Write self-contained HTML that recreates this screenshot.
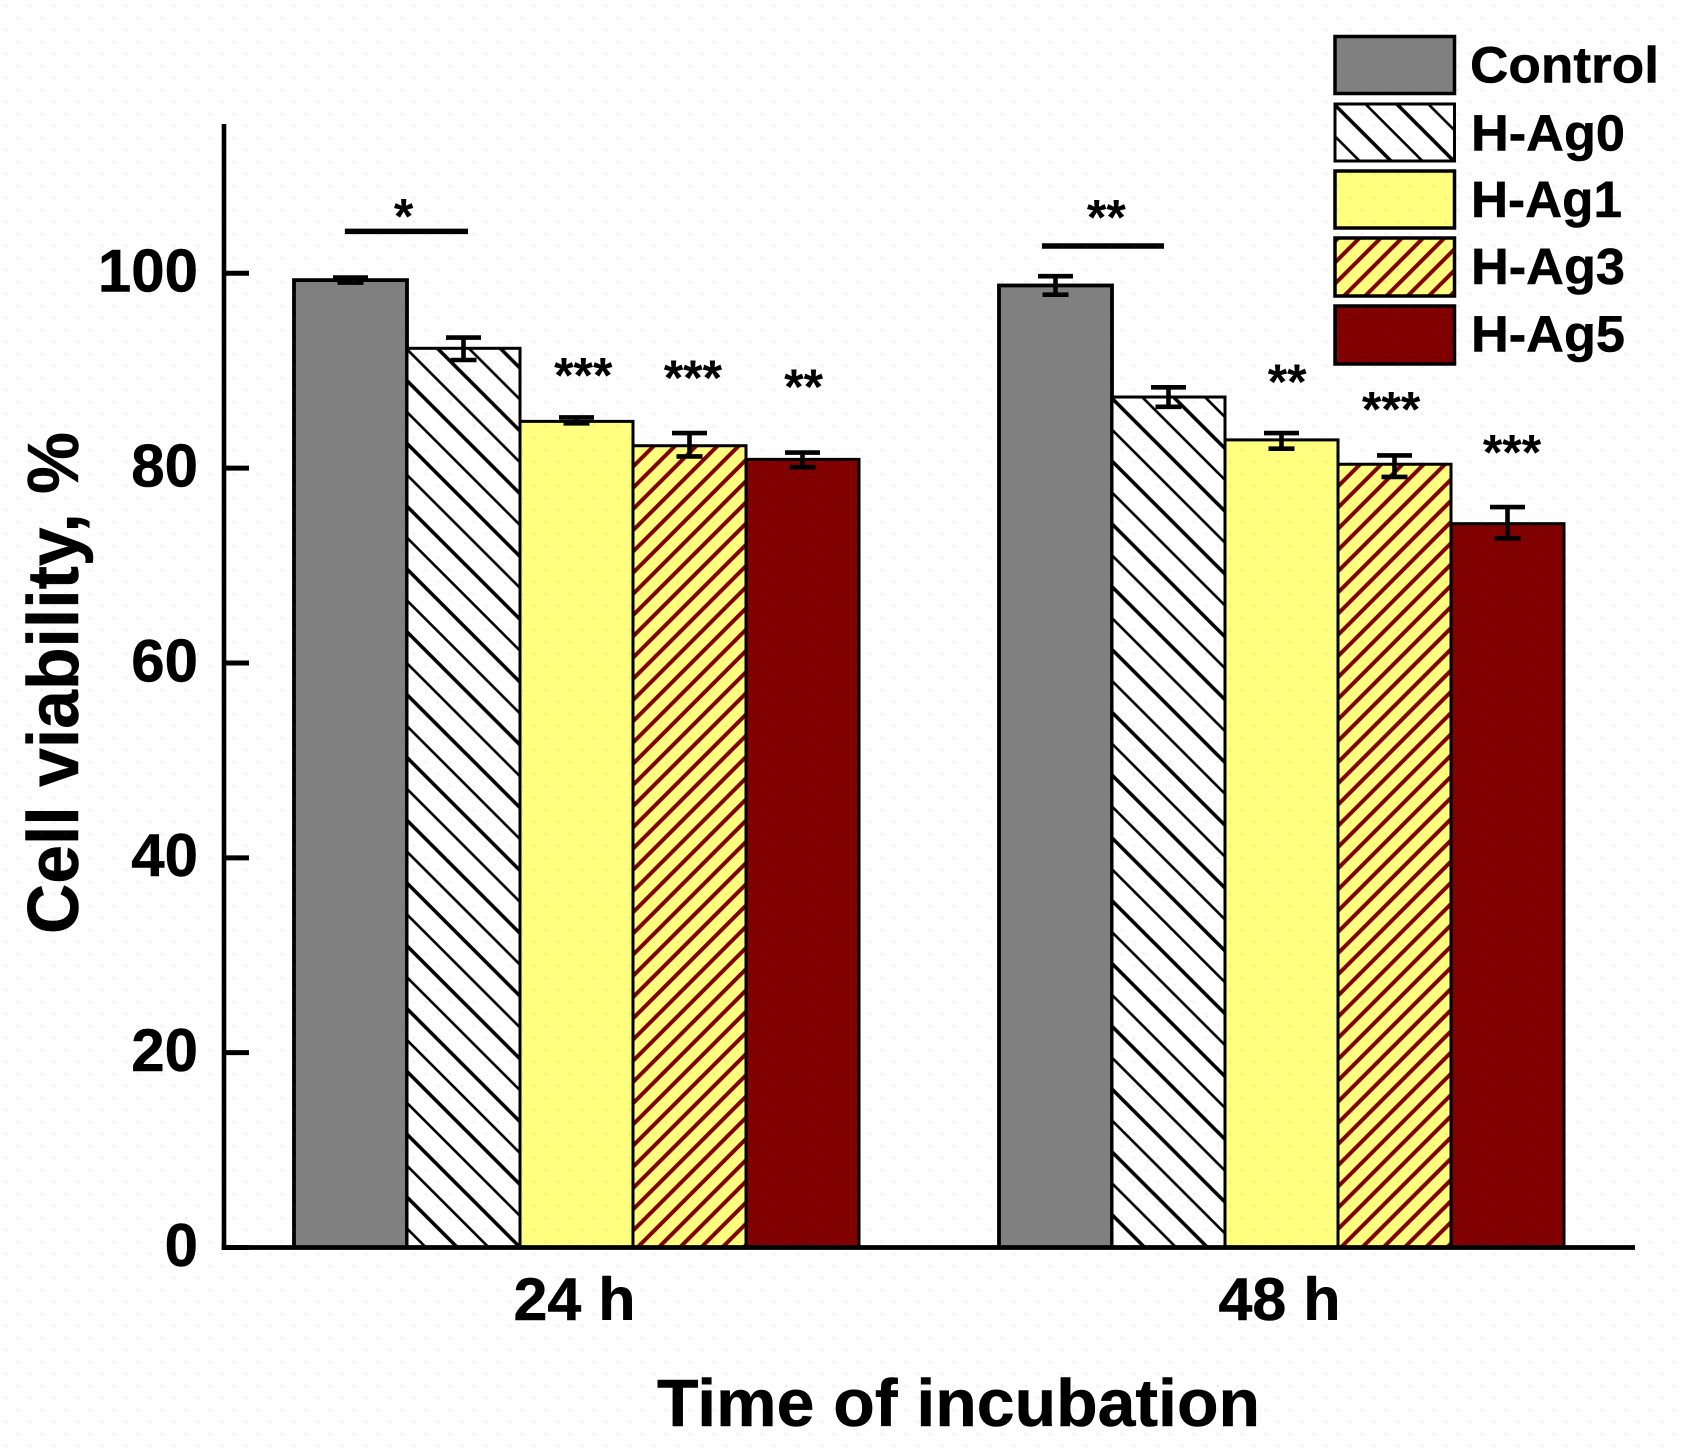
<!DOCTYPE html>
<html lang="en">
<head>
<meta charset="utf-8">
<title>Cell viability chart</title>
<style>
html,body{margin:0;padding:0;background:#fdfefd;}
svg{display:block;}
text{font-family:"Liberation Sans",Arial,sans-serif;font-weight:bold;fill:#000;stroke:#000;stroke-width:0.5px;}
</style>
</head>
<body>
<svg id="chart" xmlns="http://www.w3.org/2000/svg" width="1683" height="1453" viewBox="0 0 1683 1453">
  <defs>
    <pattern id="hatch-ag0-24" width="62.8" height="62.8" patternUnits="userSpaceOnUse" patternTransform="translate(26.3,0)">
      <rect width="62.8" height="62.8" fill="#fff"/>
      <path d="M-4 -4L66.8 66.8M58.8 -4L66.8 4M-4 58.8L4 66.8" stroke="#000" stroke-width="3.6" fill="none"/>
      <path d="M27.4 -4L66.8 35.4M-4 27.4L35.4 66.8" stroke="#000" stroke-width="2.6" fill="none"/>
    </pattern>
    <pattern id="hatch-ag0-48" width="62.8" height="62.8" patternUnits="userSpaceOnUse" patternTransform="translate(22.9,0)">
      <rect width="62.8" height="62.8" fill="#fff"/>
      <path d="M-4 -4L66.8 66.8M58.8 -4L66.8 4M-4 58.8L4 66.8" stroke="#000" stroke-width="3.6" fill="none"/>
      <path d="M27.4 -4L66.8 35.4M-4 27.4L35.4 66.8" stroke="#000" stroke-width="2.6" fill="none"/>
    </pattern>
    <pattern id="hatch-ag0-legend" width="62.8" height="62.8" patternUnits="userSpaceOnUse" patternTransform="translate(36.8,0)">
      <rect width="62.8" height="62.8" fill="#fff"/>
      <path d="M-4 -4L66.8 66.8M58.8 -4L66.8 4M-4 58.8L4 66.8" stroke="#000" stroke-width="3.6" fill="none"/>
      <path d="M27.4 -4L66.8 35.4M-4 27.4L35.4 66.8" stroke="#000" stroke-width="2.6" fill="none"/>
    </pattern>
    <pattern id="hatch-ag3-24" width="21.22" height="21.22" patternUnits="userSpaceOnUse" patternTransform="translate(17.5,0)">
      <rect width="21.22" height="21.22" fill="#ffff80"/>
      <path d="M-3 24.22L24.22 -3M-3 3L3 -3M18.22 24.22L24.22 18.22" stroke="#800000" stroke-width="4" fill="none"/>
    </pattern>
    <pattern id="hatch-ag3-48" width="21.22" height="21.22" patternUnits="userSpaceOnUse" patternTransform="translate(20.7,0)">
      <rect width="21.22" height="21.22" fill="#ffff80"/>
      <path d="M-3 24.22L24.22 -3M-3 3L3 -3M18.22 24.22L24.22 18.22" stroke="#800000" stroke-width="4" fill="none"/>
    </pattern>
    <pattern id="hatch-ag3-legend" width="21.22" height="21.22" patternUnits="userSpaceOnUse" patternTransform="translate(6,0)">
      <rect width="21.22" height="21.22" fill="#ffff80"/>
      <path d="M-3 24.22L24.22 -3M-3 3L3 -3M18.22 24.22L24.22 18.22" stroke="#800000" stroke-width="4" fill="none"/>
    </pattern>
    <pattern id="paper-dots" width="24" height="24" patternUnits="userSpaceOnUse">
      <circle cx="6" cy="6" r="1.5" fill="#5a6a66" fill-opacity="0.09"/>
      <circle cx="18" cy="18" r="1.5" fill="#5a6a66" fill-opacity="0.09"/>
    </pattern>
  </defs>

  <rect x="0" y="0" width="1683" height="1453" fill="#fdfefd"/>

  <g id="bars"></g>
  <g id="error-bars"></g>
  <g id="significance"></g>
  <g id="axes"></g>

  <text transform="translate(78,934) rotate(-90)" font-size="72" textLength="502" lengthAdjust="spacingAndGlyphs">Cell viability, %</text>
  <text x="657" y="1426" font-size="67" textLength="603" lengthAdjust="spacingAndGlyphs">Time of incubation</text>

  <g>
    <g>
      <rect x="1335" y="36.5" width="119.5" height="57" fill="#808080" stroke="#000" stroke-width="3.5"/>
      <text x="1470" y="82.5" font-size="51" textLength="189" lengthAdjust="spacingAndGlyphs">Control</text>
    </g>
    <g>
      <rect x="1335" y="104" width="119.5" height="57" fill="url(#hatch-ag0-legend)" stroke="#000" stroke-width="3"/>
      <text x="1471" y="150.5" font-size="51" textLength="154" lengthAdjust="spacingAndGlyphs">H-Ag0</text>
    </g>
    <g>
      <rect x="1335" y="171" width="119.5" height="57" fill="#ffff80" stroke="#000" stroke-width="3.5"/>
      <text x="1471" y="217" font-size="51" textLength="151" lengthAdjust="spacingAndGlyphs">H-Ag1</text>
    </g>
    <g>
      <rect x="1335" y="238" width="119.5" height="58" fill="url(#hatch-ag3-legend)" stroke="#000" stroke-width="3.5"/>
      <text x="1471" y="284" font-size="51" textLength="154" lengthAdjust="spacingAndGlyphs">H-Ag3</text>
    </g>
    <g>
      <rect x="1335" y="306" width="119.5" height="58" fill="#800000" stroke="#000" stroke-width="3.5"/>
      <text x="1471" y="351.5" font-size="51" textLength="154" lengthAdjust="spacingAndGlyphs">H-Ag5</text>
    </g>
  </g>

  <rect x="0" y="0" width="1683" height="1453" fill="url(#paper-dots)" pointer-events="none"/>
</svg>
<script>
// Data
const groupLabels = ['24 h', '48 h'];
const seriesNames = ['control', 'h-ag0', 'h-ag1', 'h-ag3', 'h-ag5'];
const yTicks = [0, 20, 40, 60, 80, 100];
const means24 = [99.3, 92.3, 84.8, 82.3, 80.9];
const means48 = [98.75, 87.3, 82.9, 80.4, 74.3];
const errUpper24 = [99.57, 93.4, 85.2, 83.6, 81.6];
const errLower24 = [99.05, 91.1, 84.6, 81.2, 80.1];
const errUpper48 = [99.7, 88.3, 83.6, 81.3, 76.0];
const errLower48 = [97.8, 86.3, 82.0, 79.1, 72.8];
const sigText24 = ['*', '***', '***', '**'];
const sigSlot24 = [0.47, 2.06, 3.03, 4.01];
const sigValue24 = [106.6, 90.26, 90.0, 89.1];
const sigText48 = ['**', '**', '***', '***'];
const sigSlot48 = [0.45, 2.05, 2.97, 4.04];
const sigValue48 = [106.5, 89.6, 86.8, 82.4];
const bracket24 = [-0.05, 1.04, 104.3];
const bracket48 = [-0.12, 0.96, 102.8];

const NS = 'http://www.w3.org/2000/svg';
const Y0 = 1247.5, PX_PER_UNIT = 9.742, AXIS_X = 224, AXIS_TOP = 124, AXIS_RIGHT = 1635;
const GROUP_START = [294, 999], SLOT = 113;

function yScale(v) { return Y0 - v * PX_PER_UNIT; }
function xScale(group, slot) { return GROUP_START[group] + slot * SLOT; }
function xCenter(group, slot) { return xScale(group, slot + 0.5); }
function make(tag, attrs) {
  const el = document.createElementNS(NS, tag);
  for (const k in attrs) el.setAttribute(k, attrs[k]);
  return el;
}

const fills = [
  ['#808080', 'url(#hatch-ag0-24)', '#ffff80', 'url(#hatch-ag3-24)', '#800000'],
  ['#808080', 'url(#hatch-ag0-48)', '#ffff80', 'url(#hatch-ag3-48)', '#800000']
];
const allMeans = [means24, means48];
const allUpper = [errUpper24, errUpper48];
const allLower = [errLower24, errLower48];
const barsG = document.getElementById('bars');
const errG = document.getElementById('error-bars');
const sigG = document.getElementById('significance');
const axesG = document.getElementById('axes');

allMeans.forEach(function (means, g) {
  means.forEach(function (v, s) {
    const rect = make('rect', {
      x: xScale(g, s), y: yScale(v), width: SLOT, height: Y0 - yScale(v),
      fill: fills[g][s], stroke: '#000', 'stroke-width': s === 0 ? 3.8 : 3
    });
    
    
    barsG.appendChild(rect);

    const cx = xCenter(g, s), yu = yScale(allUpper[g][s]), yl = yScale(allLower[g][s]);
    const err = make('path', {
      d: 'M' + cx + ' ' + yu + 'V' + yl +
         'M' + (cx - 17.5) + ' ' + yu + 'H' + (cx + 17.5) +
         'M' + (cx - 13) + ' ' + yl + 'H' + (cx + 13),
      stroke: '#000', 'stroke-width': 4.6, fill: 'none'
    });
    
    
    errG.appendChild(err);
  });
});

function drawSig(g, texts, slots, values, bracket) {
  texts.forEach(function (t, i) {
    const el = make('text', {
      x: xCenter(g, slots[i]), y: yScale(values[i]) + 24.5,
      'font-size': 50, 'text-anchor': 'middle', style: 'stroke-width:0'
    });
    
    
    el.textContent = t;
    sigG.appendChild(el);
  });
  const line = make('line', {
    x1: xCenter(g, bracket[0]), x2: xCenter(g, bracket[1]),
    y1: yScale(bracket[2]), y2: yScale(bracket[2]),
    stroke: '#000', 'stroke-width': 5.5
  });
  
  
  sigG.appendChild(line);
}
drawSig(0, sigText24, sigSlot24, sigValue24, bracket24);
drawSig(1, sigText48, sigSlot48, sigValue48, bracket48);

const yAxisLine = make('line', { x1: AXIS_X, x2: AXIS_X, y1: AXIS_TOP, y2: Y0 + 2.5, stroke: '#000', 'stroke-width': 4.6 });


axesG.appendChild(yAxisLine);

const xAxisLine = make('line', { x1: AXIS_X - 2.3, x2: AXIS_RIGHT, y1: Y0, y2: Y0, stroke: '#000', 'stroke-width': 4.8 });


axesG.appendChild(xAxisLine);

yTicks.forEach(function (t) {
  const tick = make('line', { x1: AXIS_X, x2: 249, y1: yScale(t), y2: yScale(t), stroke: '#000', 'stroke-width': 5 });
  
  
  axesG.appendChild(tick);

  const label = make('text', { x: 198, y: yScale(t) + 18.4, 'font-size': 60, 'text-anchor': 'end' });
  
  
  label.textContent = String(t);
  axesG.appendChild(label);
});

groupLabels.forEach(function (name, g) {
  const label = make('text', { x: xCenter(g, 2) - 2, y: 1320, 'font-size': 60, 'text-anchor': 'middle', textLength: 122, lengthAdjust: 'spacingAndGlyphs' });
  
  
  label.textContent = name;
  axesG.appendChild(label);
});
</script>
</body>
</html>
